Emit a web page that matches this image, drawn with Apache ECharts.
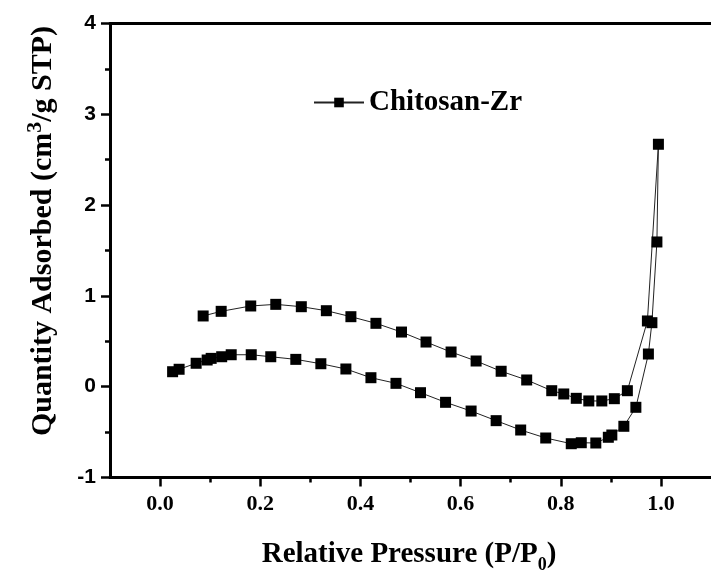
<!DOCTYPE html>
<html>
<head>
<meta charset="utf-8">
<script src="https://cdn.jsdelivr.net/npm/echarts@6/dist/echarts.min.js"></script>
<style>
  html, body { margin: 0; padding: 0; background: #fff; }
  #chart { width: 711px; height: 576px; }
</style>
</head>
<body>
<div id="chart"></div>
<script>
// adsorption branch (P/P0, quantity)
const adsP = [0.025, 0.038, 0.072, 0.094, 0.102, 0.123, 0.142, 0.182, 0.221, 0.271, 0.321, 0.371, 0.421, 0.471,
  0.520, 0.570, 0.621, 0.671, 0.720, 0.770, 0.821, 0.841, 0.870, 0.895, 0.902, 0.926, 0.950, 0.975, 0.982, 0.992, 0.995]
const adsQ = [0.165, 0.192, 0.258, 0.294, 0.312, 0.330, 0.352, 0.352, 0.330, 0.301, 0.253, 0.195, 0.099, 0.037,
  -0.066, -0.172, -0.268, -0.374, -0.477, -0.565, -0.628, -0.617, -0.620, -0.557, -0.532, -0.436, -0.227, 0.360, 0.705, 1.594, 2.67]
// desorption branch
const desP = [0.973, 0.933, 0.907, 0.882, 0.856, 0.831, 0.806, 0.782, 0.732, 0.681, 0.631, 0.581, 0.531, 0.482,
  0.431, 0.381, 0.332, 0.282, 0.231, 0.181, 0.122, 0.086]
const desQ = [0.724, -0.044, -0.132, -0.157, -0.157, -0.128, -0.080, -0.044, 0.074, 0.170, 0.283, 0.382, 0.492, 0.602,
  0.698, 0.771, 0.837, 0.881, 0.907, 0.889, 0.830, 0.779]

const xMajor = [0, 0.2, 0.4, 0.6, 0.8, 1.0]
const xMinor = [0.1, 0.3, 0.5, 0.7, 0.9]

const seriesName = 'Chitosan-Zr'

const serif = '"Liberation Serif", "Times New Roman", serif'
const sans = '"Liberation Sans", Arial, sans-serif'

const points = adsP.map((p, i) => [p, adsQ[i]])
  .concat(desP.map((p, i) => [p, desQ[i]]))

const chart = echarts.init(document.getElementById('chart'), null, { renderer: 'canvas' })

const axisLine = { show: true, onZero: false, lineStyle: { color: '#000', width: 3 } }

chart.setOption({
  backgroundColor: '#fff',
  animation: false,
  grid: { left: 110, top: 23.5, width: 610, height: 454, containLabel: false },
  legend: {
    left: 308, top: 83,
    itemWidth: 50, itemHeight: 12, itemGap: 8,
    textStyle: { fontFamily: serif, fontWeight: 'bold', fontSize: 29, color: '#000' },
    data: [seriesName]
  },
  xAxis: [
    {
      type: 'value', position: 'bottom', min: -0.1, max: 1.1, interval: 0.1,
      axisLine,
      splitLine: { show: false },
      axisTick: { show: true, inside: false, length: 9, customValues: xMajor, lineStyle: { color: '#000', width: 2.5 } },
      axisLabel: {
        customValues: xMajor, margin: 16,
        formatter: v => v.toFixed(1),
        fontFamily: serif, fontWeight: 'bold', fontSize: 22, color: '#000'
      }
    },
    {
      type: 'value', position: 'bottom', offset: 0, min: -0.1, max: 1.1, interval: 0.1,
      axisLine: { show: false, onZero: false },
      splitLine: { show: false },
      axisTick: { show: true, inside: false, length: 5, customValues: xMinor, lineStyle: { color: '#000', width: 2.5 } },
      axisLabel: { show: false }
    },
    {
      type: 'value', position: 'top', min: -0.1, max: 1.1,
      axisLine,
      splitLine: { show: false },
      axisTick: { show: false },
      axisLabel: { show: false }
    }
  ],
  yAxis: {
    type: 'value', position: 'left', min: -1, max: 4, interval: 1,
    axisLine,
    splitLine: { show: false },
    axisTick: { show: true, inside: false, length: 9, lineStyle: { color: '#000', width: 2.5 } },
    minorTick: { show: true, splitNumber: 2, length: 5, lineStyle: { color: '#000', width: 2.5 } },
    axisLabel: { margin: 14, fontFamily: sans, fontWeight: 'bold', fontSize: 21, color: '#000' }
  },
  graphic: [
    {
      type: 'text', x: 409, y: 555,
      style: {
        text: 'Relative Pressure (P/P{sub|0})',
        align: 'center', verticalAlign: 'middle',
        fontFamily: serif, fontWeight: 'bold', fontSize: 29, fill: '#000',
        rich: {
          sub: { fontFamily: serif, fontWeight: 'bold', fontSize: 18, lineHeight: 18, verticalAlign: 'bottom' }
        },
        lineHeight: 38
      }
    },
    {
      type: 'text', x: 43, y: 231, rotation: Math.PI / 2,
      style: {
        text: 'Quantity Adsorbed (cm{sup|3}/g STP)',
        align: 'center', verticalAlign: 'middle',
        fontFamily: serif, fontWeight: 'bold', fontSize: 30, fill: '#000',
        rich: {
          sup: { fontFamily: serif, fontWeight: 'bold', fontSize: 22, lineHeight: 22, verticalAlign: 'top' }
        },
        lineHeight: 38
      }
    }
  ],
  series: [
    {
      name: seriesName,
      type: 'line',
      xAxisIndex: 0,
      data: points,
      symbol: 'rect',
      symbolSize: 11,
      itemStyle: { color: '#000' },
      lineStyle: { color: '#222', width: 1 },
      clip: false
    }
  ]
})
</script>
</body>
</html>
